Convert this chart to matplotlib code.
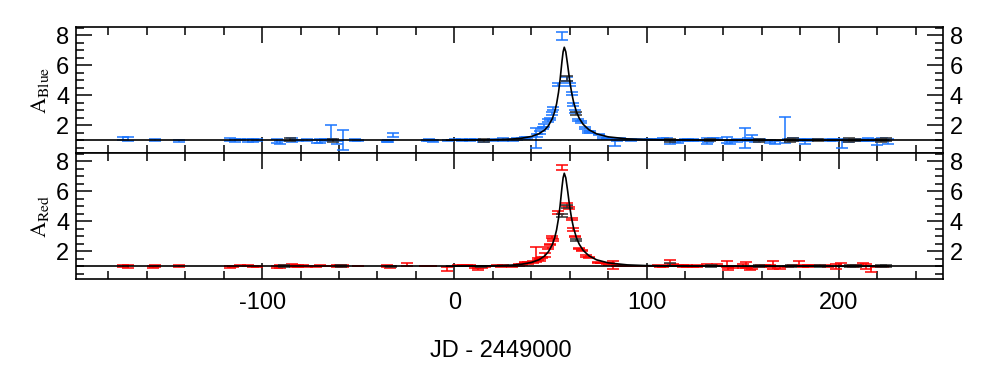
import matplotlib
matplotlib.use("Agg")
import matplotlib.pyplot as plt
from matplotlib.ticker import MultipleLocator

plt.rcParams['font.family'] = ['Liberation Sans', 'DejaVu Sans']
plt.rcParams['mathtext.fontset'] = 'stix'
plt.rcParams['axes.unicode_minus'] = False

# ---- data (JD - 2449000, amplification, error) ----
blue_t = [-172.2, -169.6, -155.7, -143.2, -116.7, -114.1, -111.5, -107.2, -104.6, -102.8,
          -92.4, -90.7, -84.6, -81.2, -76.8, -71.6, -69.9, -67.3, -64.0, -61.2, -57.8,
          -51.7, -50.0, -35.2, -34.3, -31.7, -14.4, -13.0, -11.8, -10.9, -3.1, 0.4, 3.8,
          8.2, 10.8, 15.1, 20.3, 25.2, 30.7, 32.5, 35.1, 36.8, 37.7, 42.3, 43.2, 44.6,
          46.3, 46.9, 48.9, 49.8, 51.0, 51.5, 54.1, 56.2, 58.8, 60.0, 61.1, 61.9, 62.8,
          64.5, 65.9, 68.0, 69.7, 70.6, 75.3, 77.5, 79.3, 83.6, 84.5, 86.2, 88.0, 90.0,
          92.0, 94.0, 100.0, 102.0, 104.0, 107.0, 108.7, 110.5, 112.2, 114.8, 116.5,
          120.0, 121.7, 124.4, 127.0, 131.3, 132.2, 134.8, 136.5, 141.7, 143.4, 146.9,
          151.2, 153.0, 154.7, 156.5, 159.0, 162.5, 164.3, 166.9, 172.1, 173.5, 176.4,
          179.9, 182.5, 184.2, 188.6, 195.5, 197.2, 201.6, 205.0, 209.4, 211.1, 212.8,
          215.4, 217.2, 219.8, 222.4, 225.8]
blue_a = [1.12, 1.08, 1.0, 0.95, 1.05, 0.98, 1.05, 0.95, 0.95, 1.0,
          0.95, 0.88, 1.0, 0.98, 1.0, 0.92, 0.95, 1.0, 1.55, 0.85, 1.0,
          1.0, 0.98, 0.92, 0.95, 1.35, 1.0, 1.02, 0.97, 0.95, 0.98, 1.05, 1.0,
          1.0, 1.05, 0.93, 1.02, 1.02, 1.02, 1.08, 1.12, 1.13, 1.15, 1.15, 1.3, 1.52,
          1.8, 2.0, 2.3, 2.4, 2.75, 3.13, 4.69, 7.95, 5.09, 4.69, 4.13, 3.4, 2.91,
          2.35, 2.2, 1.8, 1.57, 1.55, 1.38, 1.17, 1.12, 0.85, 1.0, 1.12, 1.05, 1.05,
          1.03, 1.05, 1.05, 1.03, 1.05, 1.05, 1.1, 1.08, 0.85, 0.95, 0.92,
          1.0, 1.0, 1.02, 1.0, 0.95, 0.9, 1.1, 1.08, 1.0, 0.85, 0.95,
          1.13, 1.05, 1.2, 0.95, 1.0, 0.98, 0.92, 0.85, 1.7, 1.05, 1.12,
          1.0, 0.9, 1.0, 1.05, 1.02, 1.0, 0.8, 1.0, 1.0, 1.0, 0.98,
          1.05, 1.0, 0.85, 1.05, 0.9]
blue_err = [0.12, 0.12, 0.08, 0.06, 0.08, 0.08, 0.06, 0.1, 0.1, 0.06,
            0.12, 0.1, 0.12, 0.06, 0.05, 0.1, 0.12, 0.08, 0.45, 0.12, 0.67,
            0.06, 0.05, 0.06, 0.08, 0.12, 0.04, 0.05, 0.05, 0.06, 0.05, 0.05, 0.05,
            0.06, 0.05, 0.08, 0.05, 0.1, 0.06, 0.08, 0.06, 0.06, 0.05, 0.67, 0.1, 0.08,
            0.08, 0.1, 0.1, 0.08, 0.1, 0.1, 0.1, 0.25, 0.12, 0.1, 0.1, 0.1, 0.1,
            0.08, 0.08, 0.08, 0.06, 0.06, 0.05, 0.06, 0.05, 0.25, 0.08, 0.05, 0.05, 0.04,
            0.05, 0.04, 0.04, 0.04, 0.04, 0.05, 0.06, 0.06, 0.12, 0.05, 0.08,
            0.05, 0.08, 0.05, 0.04, 0.18, 0.05, 0.05, 0.04, 0.2, 0.12, 0.1,
            0.67, 0.1, 0.12, 0.1, 0.05, 0.05, 0.08, 0.1, 0.88, 0.05, 0.06,
            0.08, 0.15, 0.05, 0.05, 0.06, 0.06, 0.3, 0.1, 0.04, 0.05, 0.05,
            0.1, 0.05, 0.2, 0.1, 0.15]

red_t = [-172.2, -169.6, -157.0, -155.7, -143.2, -116.7, -115.0, -111.5, -107.2, -104.6,
         -102.8, -92.4, -90.7, -84.6, -83.0, -81.2, -79.0, -76.8, -72.0, -69.9, -67.3,
         -61.2, -59.5, -57.8, -49.9, -35.2, -33.5, -24.8, -15.2, -13.5, -12.0, -4.0, 2.1,
         4.7, 6.5, 8.2, 10.5, 12.5, 14.5, 16.0, 18.0, 22.1, 24.5, 25.5, 29.9, 33.5, 35.0,
         36.8, 38.5, 41.1, 42.3, 43.7, 44.5, 45.5, 47.2, 48.9, 49.8, 50.7, 51.5, 54.1,
         56.2, 58.5, 59.8, 61.1, 61.9, 62.8, 65.1, 66.3, 68.5, 70.2, 74.9, 76.5, 79.3,
         80.5, 82.7, 84.5, 86.0, 88.0, 90.0, 92.5, 95.0, 100.0, 103.0, 106.0, 107.0,
         108.7, 112.2, 114.0, 116.5, 119.0, 121.0, 124.4, 126.0, 131.3, 133.9, 136.5,
         141.7, 142.5, 145.0, 150.2, 152.0, 153.6, 155.0, 159.8, 161.5, 164.3, 166.0,
         169.4, 173.7, 176.4, 179.3, 181.4, 184.0, 187.5, 192.7, 194.5, 198.8, 201.4,
         207.5, 209.2, 212.6, 214.4, 217.0, 219.6, 223.0]
red_a = [1.02, 0.98, 0.95, 1.02, 1.02, 0.93, 0.97, 1.03, 1.03, 1.0,
         1.0, 0.95, 0.98, 1.08, 1.02, 1.02, 1.05, 0.98, 1.0, 1.04, 1.02,
         1.02, 1.05, 1.02, 1.02, 1.0, 0.96, 1.15, 1.02, 1.02, 1.02, 0.8, 1.04,
         1.04, 1.04, 1.04, 0.95, 0.82, 0.9, 0.98, 1.02, 1.04, 0.98, 1.06, 1.0, 1.08, 1.12,
         1.25, 1.22, 1.3, 1.8, 1.47, 1.42, 1.6, 1.75, 2.2, 2.45, 2.95, 2.75, 4.57,
         7.6, 5.13, 4.87, 4.13, 3.45, 3.0, 2.2, 2.05, 1.7, 1.6, 1.25, 1.22, 1.2,
         1.15, 1.08, 1.05, 1.04, 1.02, 1.02, 1.02, 1.02, 1.02, 1.02, 1.05, 1.0,
         1.0, 1.3, 1.1, 1.05, 1.02, 1.02, 1.0, 1.02, 1.08, 1.05, 1.1,
         1.15, 0.8, 0.95, 1.0, 1.1, 0.85, 0.9, 1.02, 1.05, 1.0, 1.1,
         0.88, 0.98, 1.05, 1.2, 1.0, 1.02, 1.05, 1.04, 1.0, 1.0, 1.1,
         1.02, 1.05, 1.12, 1.0, 0.85, 0.98, 0.98]
red_err = [0.08, 0.08, 0.06, 0.06, 0.04, 0.06, 0.04, 0.04, 0.04, 0.02,
           0.02, 0.06, 0.1, 0.06, 0.05, 0.04, 0.06, 0.02, 0.05, 0.04, 0.03,
           0.05, 0.04, 0.04, 0.02, 0.06, 0.06, 0.1, 0.02, 0.02, 0.02, 0.12, 0.03,
           0.02, 0.02, 0.02, 0.05, 0.06, 0.04, 0.03, 0.02, 0.02, 0.04, 0.04, 0.04, 0.04, 0.04,
           0.05, 0.04, 0.05, 0.5, 0.06, 0.05, 0.05, 0.12, 0.06, 0.06, 0.07, 0.05, 0.08,
           0.15, 0.08, 0.06, 0.07, 0.07, 0.05, 0.05, 0.05, 0.05, 0.04, 0.04, 0.03, 0.04,
           0.05, 0.25, 0.06, 0.04, 0.03, 0.02, 0.03, 0.02, 0.02, 0.02, 0.03, 0.05,
           0.05, 0.12, 0.05, 0.05, 0.04, 0.04, 0.04, 0.04, 0.06, 0.05, 0.05,
           0.2, 0.08, 0.06, 0.12, 0.2, 0.1, 0.06, 0.04, 0.04, 0.08, 0.25,
           0.06, 0.04, 0.04, 0.15, 0.06, 0.04, 0.05, 0.04, 0.04, 0.18, 0.1,
           0.04, 0.05, 0.08, 0.15, 0.2, 0.06, 0.05]

blk_top_t = [-85.5, -63.0, 15.5, 58.4, 63.3, 112.0, 133.0,
             158.5, 174.5, 176.0, 189.0, 205.5, 208.5, 222.0, 224.5]
blk_top_a = [1.05, 1.0, 1.0, 5.1, 2.75, 1.0, 1.0,
             1.0, 1.0, 1.05, 1.0, 1.0, 1.02, 1.0, 1.02]
blk_top_err = [0.12, 0.1, 0.1, 0.15, 0.1, 0.1, 0.08,
               0.1, 0.1, 0.1, 0.08, 0.12, 0.08, 0.1, 0.1]

blk_bot_t = [-88.5, -59.0, -33.0, 14.0, 55.8, 58.6, 63.5, 112.0,
             133.5, 158.5, 175.0, 190.0, 206.0, 209.0, 222.0, 224.5]
blk_bot_a = [1.02, 1.0, 0.98, 1.0, 4.4, 5.0, 2.75, 1.1,
             1.0, 1.0, 1.02, 1.0, 1.0, 1.02, 1.0, 1.0]
blk_bot_err = [0.08, 0.06, 0.05, 0.05, 0.1, 0.1, 0.08, 0.1,
               0.08, 0.06, 0.08, 0.06, 0.08, 0.06, 0.08, 0.06]

# fitted light curve
model_t = [-4, 10, 20, 30, 35, 40, 44, 47, 49, 51, 52.2, 53.2, 54.2, 55, 56, 56.6, 57.2,
           58, 59, 60, 61, 62, 63.5, 65, 67, 70, 74, 80, 90, 100, 120, 150, 226]
model_a = [1.006, 1.014, 1.031, 1.08, 1.136, 1.25, 1.432, 1.688, 1.977, 2.452, 2.90, 3.43,
           4.19, 5.01, 6.26, 6.9, 7.2, 6.89, 5.98, 4.99, 4.19, 3.57, 2.91, 2.465, 2.065,
           1.70, 1.428, 1.226, 1.091, 1.042, 1.012, 1.003, 1.0]

BLUE = '#1a75ff'
RED = '#ff0000'

fig = plt.figure(figsize=(9.91, 3.80), dpi=100)
W, H = 991.0, 380.0
left, width = 76.3 / W, 866.4 / W
ph = 126.0 / H
ax1 = fig.add_axes([left, 1 - 153.3 / H, width, ph])
ax2 = fig.add_axes([left, 1 - 279.3 / H, width, ph])

panels = [(ax1, blue_t, blue_a, blue_err, BLUE, blk_top_t, blk_top_a, blk_top_err),
          (ax2, red_t, red_a, red_err, RED, blk_bot_t, blk_bot_a, blk_bot_err)]

for ax, t, a, e, col, bt, ba, be in panels:
    ax.errorbar(t, a, yerr=e, fmt='none', ecolor=col, elinewidth=1.1,
                capsize=4, capthick=1.1, zorder=2)
    ax.errorbar(bt, ba, yerr=be, fmt='none', ecolor='#333333', elinewidth=1.1,
                capsize=4, capthick=1.1, zorder=3)
    ax.axhline(1.0, color='black', lw=1.2, zorder=4)
    ax.plot(model_t, model_a, color='black', lw=1.2, zorder=5)

    ax.set_xlim(-196.7, 254.1)
    ax.set_ylim(0.13, 8.53)
    ax.xaxis.set_major_locator(MultipleLocator(100))
    ax.xaxis.set_minor_locator(MultipleLocator(20))
    ax.yaxis.set_major_locator(MultipleLocator(2))
    ax.yaxis.set_minor_locator(MultipleLocator(0.5))
    ax.tick_params(which='both', direction='in', top=True, right=True,
                   labelleft=True, labelright=True, width=1.1)
    ax.tick_params(which='major', length=11.5, labelsize=17)
    ax.tick_params(which='minor', length=5.8)
    ax.tick_params(axis='y', which='major', pad=5)
    ax.tick_params(axis='x', which='major', pad=9)
    ax.set_yticks([2, 4, 6, 8])
    for s in ax.spines.values():
        s.set_linewidth(1.2)

ax1.tick_params(labelbottom=False)

fig.text(40 / W, 1 - 90 / H, r'$\mathrm{A}_{\mathrm{Blue}}$', rotation=90,
         ha='center', va='center', fontsize=16)
fig.text(40 / W, 1 - 216 / H, r'$\mathrm{A}_{\mathrm{Red}}$', rotation=90,
         ha='center', va='center', fontsize=16)
fig.text(501 / W, 1 - 351 / H, 'JD - 2449000', ha='center', va='center', fontsize=17)

fig.savefig('out.png', dpi=100)
